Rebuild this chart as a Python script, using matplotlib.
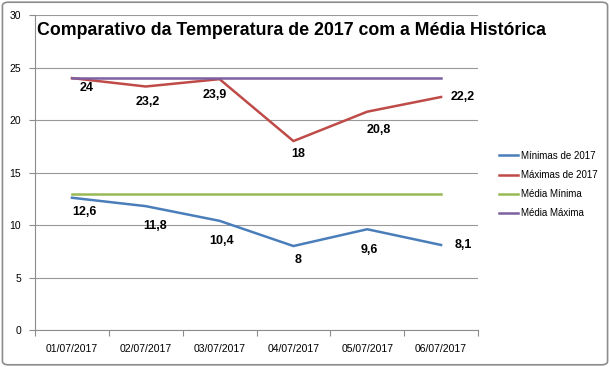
import matplotlib
matplotlib.use('Agg')
import matplotlib.pyplot as plt
from matplotlib.patches import FancyBboxPatch

# data
datas = ['01/07/2017', '02/07/2017', '03/07/2017', '04/07/2017', '05/07/2017', '06/07/2017']
minimas = [12.6, 11.8, 10.4, 8, 9.6, 8.1]
maximas = [24, 23.2, 23.9, 18, 20.8, 22.2]
media_min = [13, 13, 13, 13, 13, 13]
media_max = [24, 24, 24, 24, 24, 24]

# label offsets in pixels (dx, dy)
off_max = [(15, -10), (2, -16), (-5, -16), (5, -13), (11, -18), (22, 0)]
off_min = [(13, -14), (9, -20), (2, -20), (5, -14), (2, -21), (22, 0)]

plt.rcParams['font.family'] = ['Liberation Sans', 'DejaVu Sans']

fig = plt.figure(figsize=(6.10, 3.67), dpi=100)
fig.patches.append(FancyBboxPatch((0.004, 0.006), 0.992, 0.988, boxstyle='round,pad=0,rounding_size=0.01',
                                  transform=fig.transFigure, fc='none', ec='#8c8c8c', lw=1.2, zorder=-10))
ax = fig.add_axes([0.0574, 0.1008, 0.7262, 0.858])
ax.patch.set_alpha(0)

x = list(range(len(datas)))
ax.plot(x, minimas, color='#4a7ebb', lw=1.8, label='Mínimas de 2017')
ax.plot(x, maximas, color='#be4b48', lw=1.8, label='Máximas de 2017')
ax.plot(x, media_min, color='#98b954', lw=1.8, label='Média Mínima')
ax.plot(x, media_max, color='#7d60a0', lw=1.8, label='Média Máxima')

for i in x:
    dx, dy = off_max[i]
    ax.annotate(f'{maximas[i]:g}'.replace('.', ','), (i, maximas[i]), xytext=(dx, dy),
                textcoords='offset pixels', ha='center', va='center', fontsize=9, fontweight='bold')
    dx, dy = off_min[i]
    ax.annotate(f'{minimas[i]:g}'.replace('.', ','), (i, minimas[i]), xytext=(dx, dy),
                textcoords='offset pixels', ha='center', va='center', fontsize=9, fontweight='bold')

ax.set_xlim(-0.5, 5.5)
ax.set_ylim(0, 30)
ax.set_yticks(range(0, 31, 5))
ax.set_xticks([i - 0.5 for i in range(7)])
ax.set_xticklabels([])
ax.set_xticks(x, minor=True)
ax.set_xticklabels(datas, minor=True, fontsize=7.5)
ax.tick_params(axis='x', which='minor', length=0, pad=10)
ax.tick_params(axis='x', which='major', length=4, color='#8c8c8c')
ax.tick_params(axis='y', length=4, color='#8c8c8c', labelsize=7.5, pad=6)
ax.grid(axis='y', color='#999999', lw=0.8)
ax.set_axisbelow(True)
for s in ['top', 'right']:
    ax.spines[s].set_visible(False)
for s in ['left', 'bottom']:
    ax.spines[s].set_color('#8c8c8c')

ax.text(0.005, 0.95, 'Comparativo da Temperatura de 2017 com a Média Histórica', transform=ax.transAxes,
        fontsize=12.8, fontweight='bold', va='center', ha='left')

fig.legend(loc='center left', bbox_to_anchor=(0.803, 0.497), frameon=False, fontsize=7,
           handlelength=2.0, handletextpad=0.3, labelspacing=0.95)

fig.savefig('out.png', dpi=100)
